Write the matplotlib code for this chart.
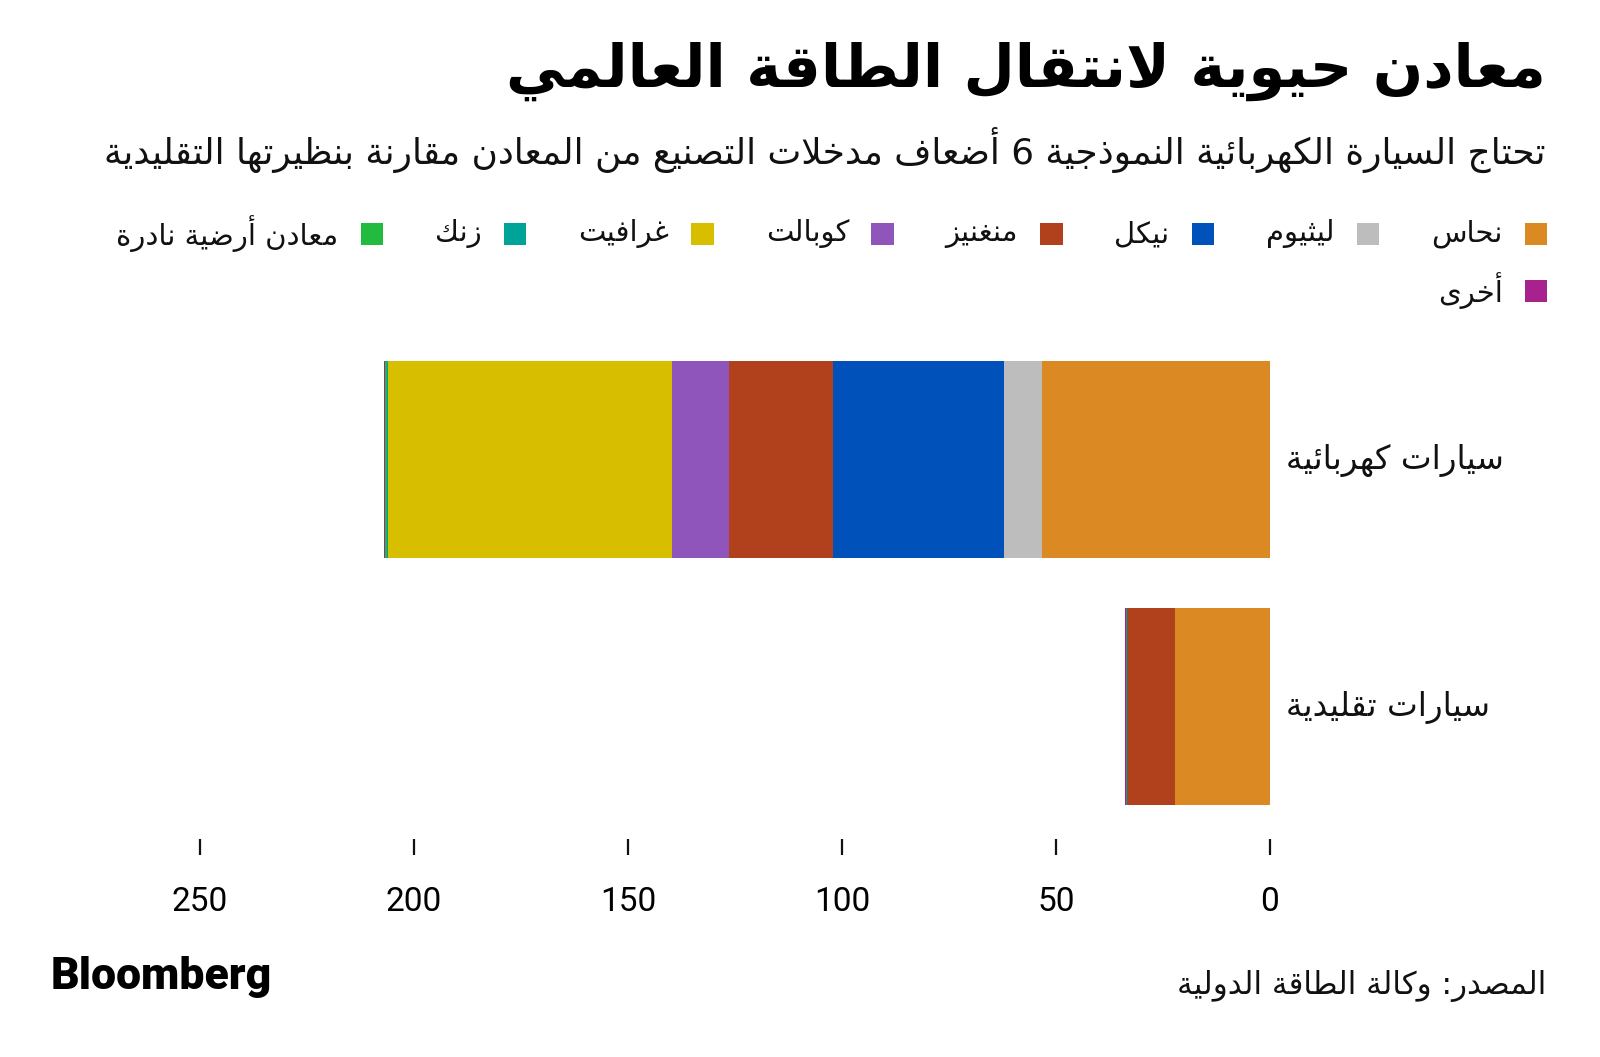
import matplotlib
matplotlib.use("Agg")
import matplotlib.pyplot as plt
from matplotlib.patches import Rectangle

# Bare-bones Arabic shaping (matplotlib has no bidi / contextual forms)
_dual = {"ئ": 0xFE89, "ب": 0xFE8F, "ت": 0xFE95, "ث": 0xFE99, "ج": 0xFE9D, "ح": 0xFEA1,
         "خ": 0xFEA5, "س": 0xFEB1, "ش": 0xFEB5, "ص": 0xFEB9, "ض": 0xFEBD, "ط": 0xFEC1,
         "ظ": 0xFEC5, "ع": 0xFEC9, "غ": 0xFECD, "ف": 0xFED1, "ق": 0xFED5, "ك": 0xFED9,
         "ل": 0xFEDD, "م": 0xFEE1, "ن": 0xFEE5, "ه": 0xFEE9, "ي": 0xFEF1}
_right = {"آ": 0xFE81, "أ": 0xFE83, "ؤ": 0xFE85, "إ": 0xFE87, "ا": 0xFE8D, "ة": 0xFE93,
          "د": 0xFEA9, "ذ": 0xFEAB, "ر": 0xFEAD, "ز": 0xFEAF, "و": 0xFEED, "ى": 0xFEEF}
_lamalef = {"آ": 0xFEF5, "أ": 0xFEF7, "إ": 0xFEF9, "ا": 0xFEFB}


def ar(s):
    chars = []
    i = 0
    while i < len(s):
        if s[i] == "ل" and i + 1 < len(s) and s[i + 1] in _lamalef:
            chars.append(("LA", s[i + 1]))
            i += 2
        else:
            chars.append(s[i])
            i += 1
    out = []
    for k, c in enumerate(chars):
        prev = chars[k - 1] if k > 0 else None
        nxt = chars[k + 1] if k + 1 < len(chars) else None
        p = isinstance(prev, str) and prev in _dual
        n = nxt is not None and (isinstance(nxt, tuple) or nxt in _dual or nxt in _right)
        if isinstance(c, tuple):
            out.append(chr(_lamalef[c[1]] + (1 if p else 0)))
        elif c in _dual:
            off = {(False, False): 0, (True, False): 1, (False, True): 2, (True, True): 3}[(p, n)]
            out.append(chr(_dual[c] + off))
        elif c in _right:
            out.append(chr(_right[c] + (1 if p else 0)))
        else:
            out.append(c)
    return "".join(reversed(out))


# Data (kg per vehicle, IEA)
categories = ["سيارات تقليدية", "سيارات كهربائية"]
minerals = ["نحاس", "ليثيوم", "نيكل", "منغنيز", "كوبالت", "غرافيت", "زنك", "معادن أرضية نادرة", "أخرى"]
conventional = [22.3, 0.0, 0.0, 11.2, 0.0, 0.0, 0.1, 0.0, 0.3]
electric = [53.2, 8.9, 39.9, 24.5, 13.3, 66.3, 0.1, 0.5, 0.3]
colors = ["#DB8923", "#BDBDBD", "#0052BA", "#B1401D", "#8F55BA", "#D7BF00", "#00A397", "#22BB3F", "#A8228E"]
xticks = [0, 50, 100, 150, 200, 250]

title = "معادن حيوية لانتقال الطاقة العالمي"
subtitle = "تحتاج السيارة الكهربائية النموذجية 6 أضعاف مدخلات التصنيع من المعادن مقارنة بنظيرتها التقليدية"
source = "المصدر: وكالة الطاقة الدولية"

AR_FONT = ["DejaVu Sans"]
NUM_FONT = ["Roboto", "DejaVu Sans"]

W, H = 1600, 1057
fig = plt.figure(figsize=(W / 100, H / 100), dpi=100)
fig.patch.set_facecolor("white")

ax = fig.add_axes([157.2 / W, 1 - 830 / H, (1270 - 157.2) / W, 494 / H])
vals = [conventional, electric]
for ci in range(len(categories)):
    left = 0
    for mi in range(len(minerals)):
        v = vals[ci][mi]
        ax.barh(ci, v, left=left, height=0.8, color=colors[mi], linewidth=0)
        left += v

ax.set_xlim(260, 0)
ax.set_ylim(-0.5, 1.5)
for s in ["top", "left", "right"]:
    ax.spines[s].set_visible(False)
ax.spines["bottom"].set_position(("outward", 6.5))
ax.spines["bottom"].set_visible(False)
ax.set_xticks(xticks)
ax.set_xticklabels([str(t) for t in xticks], family=NUM_FONT, fontsize=24)
ax.tick_params(axis="x", direction="out", length=11.5, width=1.6, pad=22, color="#111111")
ax.set_yticks([])

for ci, cat in enumerate(categories):
    fig.text(1286 / W, 1 - (707 - 247 * ci) / H, ar(cat), ha="left", va="center",
             family=AR_FONT, fontsize=23.5, color="#111111")

fig.text(1546 / W, 1 - 71 / H, ar(title), ha="right", va="center", family=AR_FONT,
         fontsize=42.5, fontweight="bold", color="#000000")
fig.text(1546 / W, 1 - 150 / H, ar(subtitle), ha="right", va="center", family=AR_FONT,
         fontsize=25.8, color="#111111")

# legend laid out right to left like the reference
renderer = fig.canvas.get_renderer()
sq = 22.5
rows = [minerals[:8], minerals[8:]]
row_y = [234, 291]
idx = 0
for r, row in enumerate(rows):
    x_right = 1547
    yc = row_y[r]
    for name in row:
        fig.patches.append(Rectangle(((x_right - sq) / W, 1 - (yc + sq / 2) / H), sq / W, sq / H,
                                     transform=fig.transFigure, color=colors[idx], linewidth=0))
        t = fig.text((x_right - sq - 22) / W, 1 - yc / H, ar(name), ha="right", va="center",
                     family=AR_FONT, fontsize=21, color="#111111")
        bb = t.get_window_extent(renderer)
        x_right = bb.x0 - 52
        idx += 1

fig.text(51 / W, 1 - 977 / H, "Bloomberg", ha="left", va="center", family=["Roboto", "DejaVu Sans"],
         fontsize=32, fontweight="black", color="#000000")
fig.text(1546 / W, 1 - 986 / H, ar(source), ha="right", va="center", family=AR_FONT,
         fontsize=22.3, color="#111111")

fig.savefig("out.png", dpi=100, facecolor="white")
